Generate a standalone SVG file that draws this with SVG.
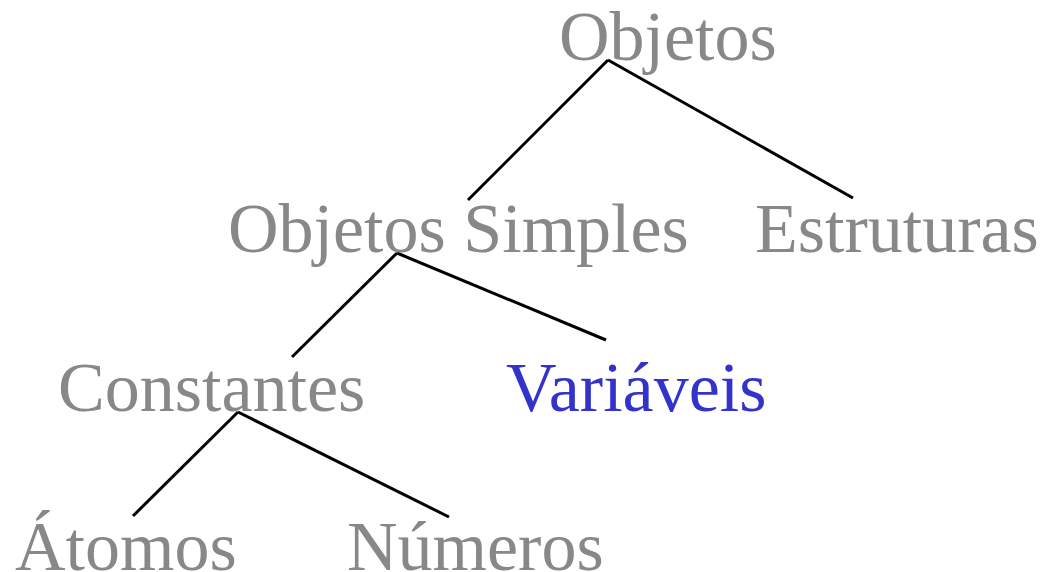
<svg xmlns="http://www.w3.org/2000/svg" width="1045" height="572" viewBox="0 0 1045 572">
<style>
text{font-family:"Liberation Serif","Times New Roman",serif;font-size:70px;fill:#888888}
text.hl{fill:#3333cc}
line{stroke:#000;stroke-width:3;stroke-linecap:butt}
</style>
<rect width="1045" height="572" fill="#fff"/>
<g id="connectors">
<line x1="608" y1="60" x2="468" y2="200"/>
<line x1="608" y1="60" x2="853" y2="198"/>
<line x1="397" y1="253" x2="292" y2="357"/>
<line x1="397" y1="253" x2="606" y2="340"/>
<line x1="238" y1="412" x2="133" y2="516"/>
<line x1="238" y1="412" x2="449" y2="517"/>
</g>
<g id="objetos"><text x="559" y="60">Objetos</text></g>
<g id="objetos-simples"><text x="228" y="252">Objetos Simples</text></g>
<g id="estruturas"><text x="755" y="252">Estruturas</text></g>
<g id="constantes"><text x="58" y="411">Constantes</text></g>
<g id="variaveis"><text class="hl" x="506" y="411">Variáveis</text></g>
<g id="atomos"><text x="15" y="570">Átomos</text></g>
<g id="numeros"><text x="347" y="570">Números</text></g>
</svg>
